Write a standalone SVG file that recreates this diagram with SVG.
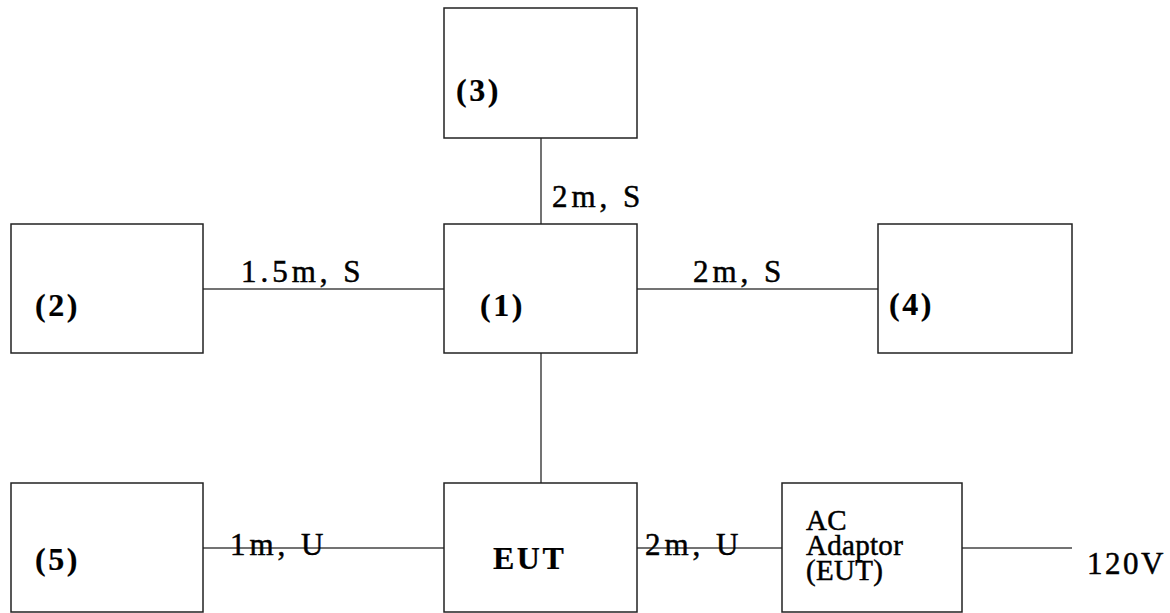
<svg xmlns="http://www.w3.org/2000/svg" width="1170" height="613" viewBox="0 0 1170 613">
  <style>
    .box { fill: #ffffff; stroke: #222222; stroke-width: 1.5; }
    .wire { stroke: #444444; stroke-width: 1.5; fill: none; }
    .lbl { font-family: "Liberation Serif", "Times New Roman", serif; fill: #000000; stroke: #000000; stroke-width: 0.5; }
    .node { font-size: 32px; font-weight: bold; letter-spacing: 2.5px; stroke-width: 0.2; }
    .cable { font-size: 31px; letter-spacing: 4px; }
    .adp { font-size: 29px; letter-spacing: 0.3px; }
  </style>
  <rect width="1170" height="613" fill="#ffffff"/>

  <!-- cables between units -->
  <g id="connectors">
    <line class="wire" x1="541" y1="138" x2="541" y2="224"/>
    <line class="wire" x1="203" y1="289" x2="444" y2="289"/>
    <line class="wire" x1="637" y1="289" x2="878" y2="289"/>
    <line class="wire" x1="541" y1="353" x2="541" y2="483"/>
    <line class="wire" x1="203" y1="548" x2="444" y2="548"/>
    <line class="wire" x1="637" y1="548" x2="782" y2="548"/>
    <line class="wire" x1="962" y1="548" x2="1072" y2="548"/>
    <text class="lbl cable" x="552" y="207">2m, S</text>
    <text class="lbl cable" x="241" y="282">1.5m, S</text>
    <text class="lbl cable" x="693" y="282">2m, S</text>
    <text class="lbl cable" x="230" y="555">1m, U</text>
    <text class="lbl cable" x="645" y="555">2m, U</text>
    <text class="lbl cable" x="1087" y="574" style="letter-spacing:2.5px">120V</text>
  </g>

  <g id="unit3">
    <rect class="box" x="444" y="8" width="193" height="130"/>
    <text class="lbl node" x="456" y="101">(3)</text>
  </g>
  <g id="unit1">
    <rect class="box" x="444" y="224" width="193" height="129"/>
    <text class="lbl node" x="480" y="316">(1)</text>
  </g>
  <g id="unit2">
    <rect class="box" x="11" y="224" width="192" height="129"/>
    <text class="lbl node" x="35" y="316">(2)</text>
  </g>
  <g id="unit4">
    <rect class="box" x="878" y="224" width="194" height="129"/>
    <text class="lbl node" x="889" y="315">(4)</text>
  </g>
  <g id="unit5">
    <rect class="box" x="11" y="483" width="192" height="129"/>
    <text class="lbl node" x="35" y="570">(5)</text>
  </g>
  <g id="eut">
    <rect class="box" x="444" y="483" width="193" height="129"/>
    <text class="lbl node" x="493" y="569">EUT</text>
  </g>
  <g id="ac-adaptor">
    <rect class="box" x="782" y="483" width="180" height="129"/>
    <text class="lbl adp" x="806" y="530">AC</text>
    <text class="lbl adp" x="806" y="555">Adaptor</text>
    <text class="lbl adp" x="806" y="580">(EUT)</text>
  </g>
</svg>
